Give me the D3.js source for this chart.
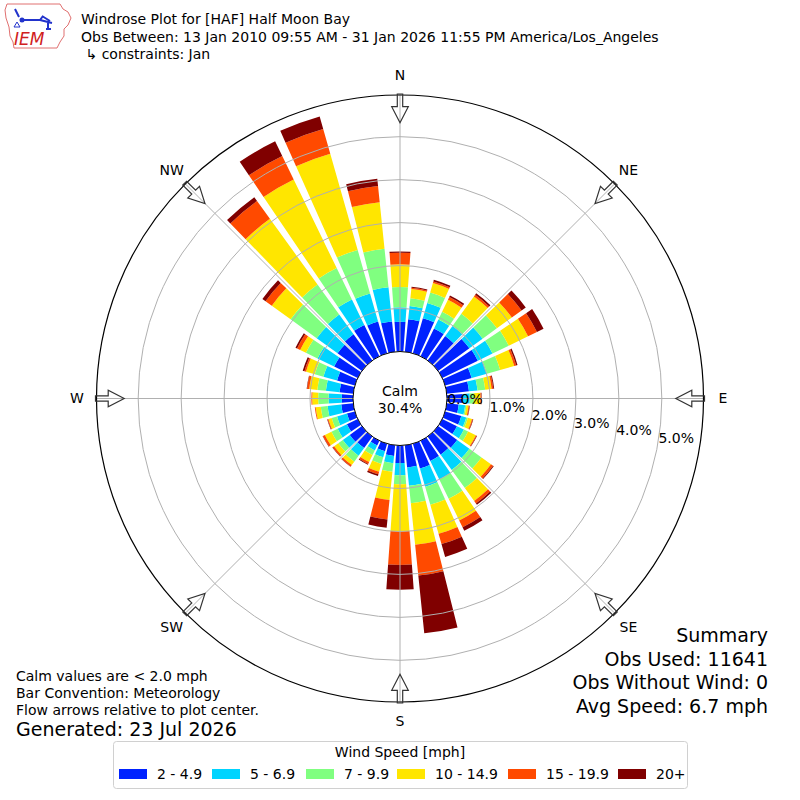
<!DOCTYPE html>
<html>
<head>
<meta charset="utf-8">
<script src="https://cdn.jsdelivr.net/npm/d3@7"></script>
<style>
  body { margin: 0; background: #fff; }
  text { font-family: "DejaVu Sans", sans-serif; }
</style>
</head>
<body>
<div id="chart"></div>
<script>
// ---------- data (percent of all obs) ----------
var directions = [0, 10, 20, 30, 40, 50, 60, 70, 80, 90, 100, 110, 120, 130, 140, 150, 160, 170,
                  180, 190, 200, 210, 220, 230, 240, 250, 260, 270, 280, 290, 300, 310, 320, 330, 340, 350];

var binLabels = ["2 - 4.9", "5 - 6.9", "7 - 9.9", "10 - 14.9", "15 - 19.9", "20+"];
var binColors = ["#0022ff", "#00d4ff", "#80ff80", "#ffe600", "#ff4a00", "#800000"];

var speed2to5   = [0.69,0.76,0.85,0.72,0.70,0.90,0.92,0.64,0.52,0.37,0.28,0.39,0.38,0.55,0.52,0.52,0.60,0.52,
                   0.41,0.25,0.18,0.12,0.33,0.35,0.28,0.19,0.28,0.26,0.32,0.43,0.61,0.70,0.75,0.81,0.77,0.71];
var speed5to7   = [0.34,0.31,0.37,0.23,0.29,0.38,0.38,0.37,0.20,0.16,0.15,0.12,0.18,0.35,0.44,0.48,0.44,0.43,
                   0.28,0.17,0.15,0.13,0.22,0.20,0.24,0.24,0.32,0.31,0.32,0.33,0.43,0.60,0.57,0.66,0.68,0.80];
var speed7to10  = [0.47,0.18,0.25,0.20,0.35,0.41,0.42,0.32,0.18,0.10,0.03,0.04,0.11,0.35,0.52,0.50,0.44,0.41,
                   0.21,0.20,0.16,0.12,0.17,0.13,0.16,0.13,0.16,0.24,0.20,0.21,0.30,0.75,0.86,0.81,1.05,0.90];
var speed10to15 = [0.53,0.22,0.23,0.31,0.50,0.43,0.50,0.34,0.15,0.15,0.05,0.10,0.20,0.27,0.37,0.56,0.70,0.97,
                   1.10,0.66,0.19,0.18,0.10,0.12,0.17,0.08,0.12,0.14,0.19,0.21,0.15,0.54,1.89,2.29,2.33,1.09];
var speed15to20 = [0.27,0.03,0.04,0.07,0.05,0.28,0.23,0.05,0.04,0.02,0.02,0.02,0.02,0.06,0.07,0.18,0.25,0.72,
                   0.78,0.46,0.06,0.05,0.04,0.04,0.05,0.02,0.02,0.02,0.05,0.04,0.08,0.18,0.51,0.61,0.60,0.38];
var speed20plus = [0.03,0.02,0.04,0.04,0.04,0.12,0.17,0.03,0.02,0.01,0.01,0.01,0.01,0.02,0.04,0.09,0.31,1.35,
                   0.58,0.19,0.04,0.02,0.01,0.01,0.01,0.01,0.00,0.00,0.01,0.04,0.04,0.09,0.11,0.38,0.30,0.17];

var ringTicks = [0, 1, 2, 3, 4, 5];
var compassLabels = ["N", "NE", "E", "SE", "S", "SW", "W", "NW"];
var compassAngles = [0, 45, 90, 135, 180, 225, 270, 315];

var calmPct = "30.4%";
var titleLines = ["Windrose Plot for [HAF] Half Moon Bay",
                  "Obs Between: 13 Jan 2010 09:55 AM - 31 Jan 2026 11:55 PM America/Los_Angeles",
                  " \u21b3 constraints: Jan"];
var noteLines = ["Calm values are < 2.0 mph", "Bar Convention: Meteorology", "Flow arrows relative to plot center."];
var summaryLines = ["Summary", "Obs Used: 11641", "Obs Without Wind: 0", "Avg Speed: 6.7 mph"];

// ---------- setup ----------
var width = 800, height = 800,
    cx = 400, cy = 398.5,
    barWidth = 8.2; // degrees per bar

var svg = d3.select("#chart").append("svg")
    .attr("width", width)
    .attr("height", height);

svg.append("rect").attr("width", width).attr("height", height).attr("fill", "#fff");

var r = d3.scaleLinear().domain([0, 5.97]).range([47, 303.5]);
var rad = function(deg){ return deg * Math.PI / 180; };

var seriesValues = [speed2to5, speed5to7, speed7to10, speed10to15, speed15to20, speed20plus];
var rows = directions.map(function(dir, i){
    var row = {dir: dir};
    binLabels.forEach(function(lab, j){ row[lab] = seriesValues[j][i]; });
    return row;
});
var stacked = d3.stack().keys(binLabels)(rows);

var rose = svg.append("g").attr("transform", "translate(" + cx + "," + cy + ")");

//bars
var arc = d3.arc()
    .innerRadius(function(d){ return r(d[0]); })
    .outerRadius(function(d){ return r(d[1]); })
    .startAngle(function(d){ return rad(d.data.dir - barWidth / 2); })
    .endAngle(function(d){ return rad(d.data.dir + barWidth / 2); });

rose.selectAll(".bin")
    .data(stacked).enter()
    .append("g")
    .attr("fill", function(d, i){ return binColors[i]; })
    .selectAll("path")
    .data(function(d){ return d; }).enter()
    .append("path")
    .attr("d", arc);

// grid rings + spokes, drawn on top of the bars like the original
rose.selectAll(".ring")
    .data(ringTicks.slice(1)).enter()
    .append("circle")
    .attr("r", function(d){ return r(d); })
    .attr("fill", "none")
    .attr("stroke", "#b0b0b0")
    .attr("stroke-width", 1);

rose.selectAll(".spoke")
    .data(compassAngles).enter()
    .append("line")
    .attr("x1", 0).attr("y1", 0)
    .attr("x2", function(d){ return r.range()[1] * Math.sin(rad(d)); })
    .attr("y2", function(d){ return -r.range()[1] * Math.cos(rad(d)); })
    .attr("stroke", "#b0b0b0")
    .attr("stroke-width", 1);

rose.append("circle")
    .attr("r", r.range()[1])
    .attr("fill", "none")
    .attr("stroke", "#000")
    .attr("stroke-width", 1.2);

// calm circle
rose.append("circle")
    .attr("r", r(0))
    .attr("fill", "#fff")
    .attr("stroke", "#000")
    .attr("stroke-width", 1);

rose.append("text").attr("text-anchor", "middle").attr("y", -3)
    .attr("font-size", 14).text("Calm");
rose.append("text").attr("text-anchor", "middle").attr("y", 14)
    .attr("font-size", 14).text(calmPct);

// ring labels, along a ray a bit below east, sitting just above it
var labelAngle = rad(10.5);
rose.selectAll(".rlab")
    .data(ringTicks).enter()
    .append("text")
    .attr("x", function(d){ return r(d) * Math.cos(labelAngle) + 1; })
    .attr("y", function(d){ return r(d) * Math.sin(labelAngle) - 3; })
    .attr("font-size", 14)
    .text(function(d){ return d3.format(".1f")(d) + "%"; });

// flow arrows, hollow, tail on the outer circle pointing inward
var arrowPts = [[-2.7,0],[-2.7,12.7],[-8.3,12.7],[0,28.7],[8.3,12.7],[2.7,12.7],[2.7,0]];
rose.selectAll(".arrow")
    .data(compassAngles).enter()
    .append("polygon")
    .attr("points", arrowPts.map(function(p){ return p.join(","); }).join(" "))
    .attr("transform", function(d){ return "rotate(" + d + ") translate(0," + (-r.range()[1] - 1) + ")"; })
    .attr("fill", "none")
    .attr("stroke", "#333")
    .attr("stroke-width", 1.2);

rose.selectAll(".compass")
    .data(compassLabels).enter()
    .append("text")
    .attr("text-anchor", "middle")
    .attr("dy", "0.35em")
    .attr("font-size", 14)
    .attr("x", function(d, i){ return 323 * Math.sin(rad(compassAngles[i])); })
    .attr("y", function(d, i){ return -323 * Math.cos(rad(compassAngles[i])); })
    .text(function(d){ return d; });

// ---------- header ----------
svg.selectAll(".title")
    .data(titleLines).enter()
    .append("text")
    .attr("x", 81)
    .attr("y", function(d, i){ return 24 + i * 17.5; })
    .attr("font-size", 14)
    .style("white-space", "pre")
    .text(function(d){ return d; });

// IEM logo, rough
var logo = svg.append("g");
logo.append("path")
    .attr("d", "M7,4 L60,4 L63,9 L68,12 L71,18 L68,25 L64,29 L64,36 L60,42 L57,48 L14,48 L13,42 L10,36 L9,27 L6,18 L5,10 Z")
    .attr("fill", "none").attr("stroke", "#e07070").attr("stroke-width", 1);
logo.append("path")
    .attr("d", "M15,9 L19,17 M21,20 L40,20 L43,16 M42,16 L50,21 M40,20 L52,23 M48,23 L48,29 M46,29 L51,29")
    .attr("fill", "none").attr("stroke", "#2233cc").attr("stroke-width", 2);
logo.append("circle").attr("cx", 22).attr("cy", 20).attr("r", 2.5).attr("fill", "#2233cc");
logo.append("path").attr("d", "M14,27 L17,22 L20,27 Z").attr("fill", "none").attr("stroke", "#2233cc");
logo.append("text")
    .attr("x", 14).attr("y", 45)
    .attr("font-family", "Liberation Serif, serif")
    .attr("font-style", "italic")
    .attr("font-size", 17)
    .attr("fill", "#d02020")
    .text("IEM");

// ---------- notes ----------
svg.selectAll(".note")
    .data(noteLines).enter()
    .append("text")
    .attr("x", 16)
    .attr("y", function(d, i){ return 681 + i * 17; })
    .attr("font-size", 14)
    .text(function(d){ return d; });

svg.append("text")
    .attr("x", 16).attr("y", 736)
    .attr("font-size", 19)
    .text("Generated: 23 Jul 2026");

svg.selectAll(".summary")
    .data(summaryLines).enter()
    .append("text")
    .attr("x", 768)
    .attr("y", function(d, i){ return 642 + i * 23.5; })
    .attr("text-anchor", "end")
    .attr("font-size", 19)
    .text(function(d){ return d; });

// ---------- legend ----------
var legend = svg.append("g");
legend.append("rect")
    .attr("x", 113.5).attr("y", 741.5)
    .attr("width", 574).attr("height", 47)
    .attr("rx", 3)
    .attr("fill", "#fff")
    .attr("stroke", "#d0d0d0");

legend.append("text")
    .attr("x", 400).attr("y", 757)
    .attr("text-anchor", "middle")
    .attr("font-size", 14)
    .text("Wind Speed [mph]");

var legendX = [119, 212, 306, 397, 508, 618];
var entry = legend.selectAll(".entry")
    .data(binLabels).enter()
    .append("g")
    .attr("transform", function(d, i){ return "translate(" + legendX[i] + ",769)"; });

entry.append("rect")
    .attr("width", 28).attr("height", 10)
    .attr("fill", function(d, i){ return binColors[i]; });

entry.append("text")
    .attr("x", 38).attr("y", 10)
    .attr("font-size", 14)
    .text(function(d){ return d; });
</script>
</body>
</html>
